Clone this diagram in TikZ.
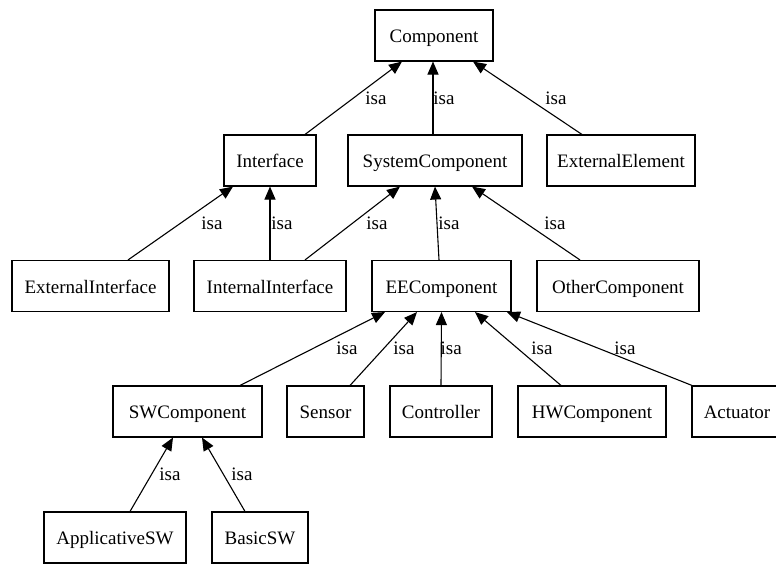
\documentclass[tikz,border=0pt]{standalone}
\usepackage{fontspec}
\setmainfont{Liberation Serif}
\usetikzlibrary{arrows.meta}

\begin{document}
\begin{tikzpicture}[x=1pt, y=-1pt,
    cls/.style={draw, line width=1.1pt, minimum height=51pt, inner sep=0pt, text height=18pt, text depth=4pt, font=\fontsize{19}{22}\selectfont},
    isaedge/.style={-{Triangle[length=13pt, width=11pt]}, line width=1.1pt},
    isalabel/.style={font=\fontsize{19}{22}\selectfont, inner sep=0pt}]
    \useasboundingbox (0, 0) rectangle (776, 565);

    % classes: name/x/y/width/text
    \foreach \n/\x/\y/\w/\t in {comp/434/35.5/118/Component,
            iface/270/160.5/92/Interface, syscomp/435/160.5/174/SystemComponent,
            extel/621/160.5/148/ExternalElement,
            extif/90.5/286/157/ExternalInterface, intif/270/286/152/InternalInterface,
            eecomp/441.5/286/139/EEComponent, other/618/286/162/OtherComponent,
            swcomp/187.5/411.5/149/SWComponent, sensor/325.5/411.5/77/Sensor,
            ctrl/441/411.5/102/Controller, hwcomp/592/411.5/148/HWComponent,
            act/737/411.5/90/Actuator,
            appsw/115/537.5/142/ApplicativeSW, basicsw/260/537.5/96/BasicSW} {
        \node[cls, minimum width=\w pt] (\n) at (\x, \y) {\t};
    }

    % isa links: child/shift/parent/shift/label shift
    \foreach \a/\da/\b/\db/\dx in {iface/35/comp/-32/22.5, syscomp/-2/comp/-1/11,
            extel/-39/comp/39/28.5,
            extif/37.5/iface/-37/31.5, intif/0/iface/0/12, intif/35/syscomp/-35/24.5,
            eecomp/-2.5/syscomp/0/12, other/-38/syscomp/37/29,
            swcomp/52.5/eecomp/-56.5/34.5, sensor/24.5/eecomp/-24.5/20.5,
            ctrl/0/eecomp/0/10, hwcomp/-31/eecomp/33.5/24, act/-45/eecomp/65.5/25.5,
            appsw/15/swcomp/-14.5/18.5, basicsw/-15/swcomp/14.5/18.5} {
        \draw[isaedge] ([xshift=\da pt]\a.north) -- ([xshift=\db pt]\b.south)
            node[isalabel, pos=0.5, xshift=\dx pt] {isa};
    }
\end{tikzpicture}
\end{document}
